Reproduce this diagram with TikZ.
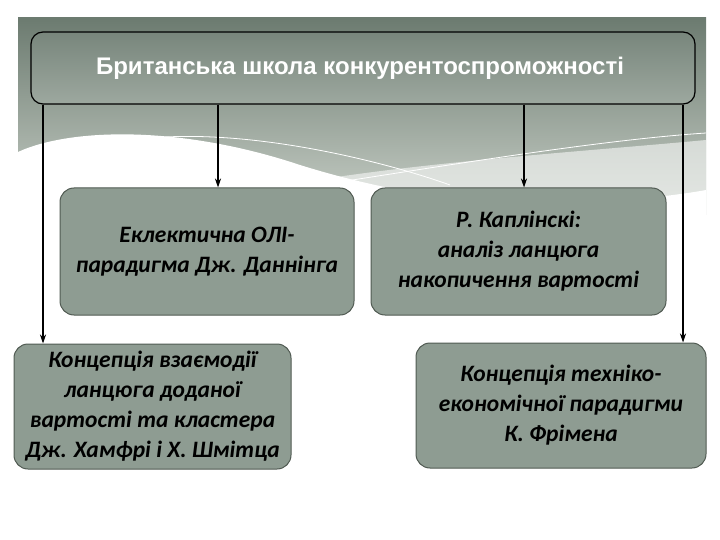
\documentclass[tikz,border=0pt]{standalone}
\usepackage{fontspec}
\setmainfont{Carlito}
\newfontfamily\headfont{Liberation Sans}
\usetikzlibrary{arrows.meta}
\definecolor{bandtop}{HTML}{6C7B70}
\definecolor{bandbot}{HTML}{C9D0C8}
\definecolor{boxfill}{HTML}{8E9C92}
\definecolor{boxline}{HTML}{505A52}
\definecolor{toptop}{HTML}{78867C}
\definecolor{topbot}{HTML}{9DA89F}
\tikzset{
  cbox/.style={draw=boxline, line width=1pt, fill=boxfill, rounded corners=14pt,
    minimum width=#1, align=center, inner sep=0pt},
  ctext/.style={font=\fontsize{23.5}{29}\selectfont\bfseries\itshape, text=black},
  arr/.style={-{Stealth[length=9pt,width=6pt]}, line width=1.2pt, black}
}
\begin{document}
\begin{tikzpicture}[x=1pt,y=-1pt]
\useasboundingbox (0,0) rectangle (720,540);
% background band
\shade[top color=bandtop, bottom color=bandbot] (18,18) rectangle (706,215);
\fill[white!85!bandbot, opacity=0.6] (330,178) .. controls (450,160) and (600,150) .. (706,140) -- (706,215) -- (300,215) -- cycle;
\fill[white] (18,152) .. controls (70,128) and (180,125) .. (300,165)
  .. controls (380,190) and (450,200) .. (520,205) .. controls (600,205) and (680,195) .. (706,190)
  -- (706,220) -- (18,220) -- cycle;
\draw[white, line width=0.8pt] (165,137) .. controls (260,132) and (380,160) .. (450,185);
\draw[white, line width=0.8pt] (320,185) .. controls (450,165) and (600,140) .. (706,133);
% nodes
\node[draw=black, line width=1.2pt, top color=toptop, bottom color=topbot, rounded corners=12pt,
  minimum width=664pt, minimum height=72pt, inner sep=0pt] (top) at (363,68) {};
\node[font=\headfont\fontsize{24}{28}\selectfont\bfseries, text=white] (title) at (360,68) {Британська школа конкурентоспроможності};
\node[cbox=294pt, minimum height=127pt, ctext] (A) at (207,251.5) {Еклектична ОЛІ-\\[1pt]парадигма Дж. Даннінга};
\node[cbox=295pt, minimum height=127pt, ctext] (B) at (518.5,251.5) {Р. Каплінскі:\\[1pt]аналіз ланцюга\\[1pt]накопичення вартості};
\node[cbox=277pt, minimum height=125pt, ctext] (C) at (152.5,406.5) {Концепція взаємодії\\[1pt]ланцюга доданої\\[1pt]вартості та кластера\\[1pt]Дж. Хамфрі і Х. Шмітца};
\node[cbox=290pt, minimum height=125pt, ctext] (D) at (561,405.5) {Концепція техніко-\\[1pt]економічної парадигми\\[1pt]К. Фрімена};
% connectors
\draw[arr] (top.south -| 43,0) -- (C.north -| 43,0);
\draw[arr] (top.south -| 218,0) -- (A.north -| 218,0);
\draw[arr] (top.south -| 524,0) -- (B.north -| 524,0);
\draw[arr] (top.south -| 683,0) -- (D.north -| 683,0);
\end{tikzpicture}
\end{document}
